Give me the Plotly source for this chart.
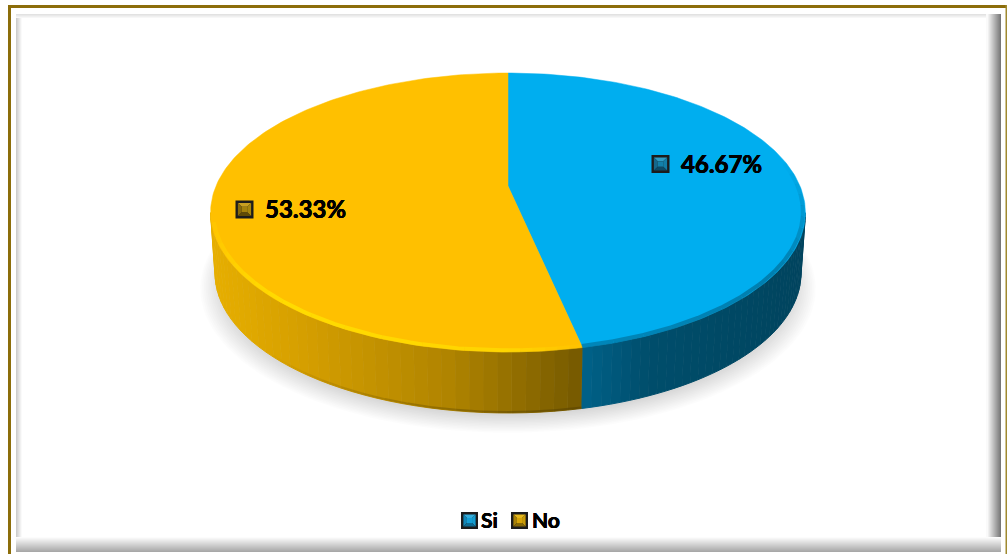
import numpy as np
import plotly.graph_objects as go

# ---- data ----
categories = ["Si", "No"]
values = [46.67, 53.33]
value_labels = ["46.67%", "53.33%"]

FONT = "Lato, Carlito, 'Noto Sans', sans-serif"
HEAVY = "0.35px 0 0 #000, -0.35px 0 0 #000, 0 0.25px 0 #000"
TOP = ["#00AEEF", "#FFC000"]
CHIP = [
    ("#2f9cc4", "#14688c", "#127da6", "#0c4a66", "#1280aa"),
    ("#c9a021", "#86690a", "#a8860c", "#5f4a06", "#a5820c"),
]
LEG_CHIP = [
    ("#35aedd", "#1386b6", "#159ccf", "#0d6a92", "#149fd6"),
    ("#e7b91c", "#a88208", "#c89a08", "#856706", "#d6a408"),
]

# ---- perspective of the disc, in pixel axes ----
CX, K, C = 508.0, 292.0, 0.19
A, B = -99.1, 186.0
DEPTH = 61.0
SHRINK = 0.985


def top_xy(theta, scale=1.0):
    """theta in degrees, clockwise from 12 o'clock."""
    t = np.radians(theta)
    u, v = np.sin(t) * scale, np.cos(t) * scale
    d = 1 + C * v
    return CX + K * u / d, (A * v + B) / d


def bot_xy(theta):
    x, y = top_xy(theta)
    return CX + (x - CX) * SHRINK, y + DEPTH


def lerp(stops, x):
    xs = [s[0] for s in stops]
    out = [np.interp(x, xs, [s[1][i] for s in stops]) for i in range(3)]
    return "rgb(%d,%d,%d)" % tuple(out)


angles = np.cumsum([0] + [v / sum(values) * 360 for v in values])
fig = go.Figure()


def poly(x, y, color, line=1.0):
    fig.add_trace(go.Scatter(x=list(x), y=list(y), mode="lines", fill="toself",
                             fillcolor=color, line=dict(color=color, width=line),
                             hoverinfo="skip", showlegend=False))


def stroke(x, y, color, width):
    fig.add_trace(go.Scatter(x=list(x), y=list(y), mode="lines",
                             line=dict(color=color, width=width, shape="linear"),
                             hoverinfo="skip", showlegend=False))


def faded_arc(fn, a0, a1, rgb, alpha0, alpha1, width, parts=14):
    edges = np.linspace(a0, a1, parts + 1)
    for j in range(parts):
        th = np.linspace(edges[j], edges[j + 1], 8)
        x, y = fn(th)
        al = alpha0 + (alpha1 - alpha0) * (j + 0.5) / parts
        stroke(x, y, "rgba(%d,%d,%d,%.3f)" % (*rgb, al), width)


# soft shadow below the disc
tt = np.linspace(0, 360, 181)
for i in range(16):
    sx, sy = top_xy(tt)
    grow = 1.035 - i * 0.006
    poly(CX + (sx - CX) * grow, 285 + (sy - 213) * grow + 4 - i * 0.6,
         "rgba(0,0,0,0.011)", 0)

# side wall, split into shaded strips
WALL = [
    [(581, (0, 98, 138)), (650, (0, 78, 108)), (810, (0, 68, 94))],
    [(205, (232, 176, 0)), (300, (214, 160, 0)), (450, (176, 132, 0)), (581, (118, 90, 0))],
]
wall_from, wall_to = 101.0, 259.0
for i in range(len(categories)):
    lo = max(angles[i], wall_from)
    hi = min(angles[i + 1], wall_to)
    edges = np.linspace(lo, hi, 41)
    for a, b in zip(edges[:-1], edges[1:]):
        th = np.linspace(a, b, 5)
        tx, ty = top_xy(th)
        bx, by = bot_xy(th[::-1])
        poly(np.r_[tx, bx], np.r_[ty, by], lerp(WALL[i], top_xy((a + b) / 2)[0]))

# darker rim along the bottom of the wall, fading out to the left
faded_arc(lambda t: (bot_xy(t)[0], bot_xy(t)[1] - 1), angles[1], 225, (90, 68, 0), 0.6, 0.0, 2)

# top faces
for i in range(len(categories)):
    th = np.linspace(angles[i], angles[i + 1], 181)
    ax, ay = top_xy(th)
    poly(np.r_[CX, ax, CX], np.r_[B, ay, B], TOP[i], 0.5)

# bevel highlights along the top rim, kept just inside the edge
inner = lambda t: top_xy(t, 0.992)
faded_arc(inner, 255, 222, (255, 222, 0), 0.15, 0.9, 4, 8)
faded_arc(inner, 222, 180, (255, 222, 0), 0.9, 0.7, 4, 6)
faded_arc(inner, 180, angles[1], (255, 222, 0), 0.7, 0.05, 4, 6)
faded_arc(inner, 80, 125, (0, 95, 132), 0.0, 0.6, 4, 10)
faded_arc(inner, 125, angles[1], (0, 95, 132), 0.6, 0.5, 4, 8)

shapes = []
annotations = []


def rect(x0, y0, x1, y1, color):
    shapes.append(dict(type="rect", xref="x", yref="y", x0=x0, y0=y0, x1=x1, y1=y1,
                       fillcolor=color, line=dict(width=0), layer="below"))


# gold frame
GOLD = "#8C6D0A"
rect(8, 5, 1007, 8, GOLD)
rect(8, 5, 11, 554, GOLD)
rect(1005.5, 5, 1007, 554, "#A08A30")

# inner soft bevel
for k in range(6):
    g = 205 + k * 9
    rect(16 + k, 14, 17 + k, 550, "rgb(%d,%d,%d)" % (g, g, g))
for k in range(4):
    g = 226 + k * 7
    rect(16, 14 + k, 1000, 15 + k, "rgb(%d,%d,%d)" % (g, g, g))
for k in range(14):
    g = 120 + k * 10
    rect(999 - k, 14, 1001 - k, 552, "rgb(%d,%d,%d)" % (g, g, g))
for k in range(15):
    g = 168 + k * 6
    rect(16, 551 - k, 1001, 552 - k, "rgb(%d,%d,%d)" % (g, g, g))


def chip(cx, cy, half, cols, border=1.6):
    l, r, t, b = cx - half, cx + half, cy - half, cy + half
    il, ir, it, ib = l + border, r - border, t + border, b - border
    p = half * 0.3

    def tri(pts, c):
        path = "M" + " L".join(f"{q[0]:.2f},{q[1]:.2f}" for q in pts) + " Z"
        shapes.append(dict(type="path", path=path, xref="x", yref="y", fillcolor=c,
                           line=dict(width=0), layer="above"))

    shapes.append(dict(type="rect", xref="x", yref="y", x0=l, y0=t, x1=r, y1=b,
                       fillcolor="#1c1c1c", line=dict(width=0), layer="above"))
    a, b2, c2, d = (cx - p, cy - p), (cx + p, cy - p), (cx + p, cy + p), (cx - p, cy + p)
    tri([(il, it), (ir, it), b2, a], cols[0])
    tri([(il, it), (il, ib), d, a], cols[1])
    tri([(ir, it), (ir, ib), c2, b2], cols[2])
    tri([(il, ib), (ir, ib), c2, d], cols[3])
    tri([a, b2, c2, d], cols[4])


# data labels
LABEL_POS = [(660.5, 164, 681), (244.5, 209.5, 265)]
for i, (mx, my, tx) in enumerate(LABEL_POS):
    chip(mx, my, 9, CHIP[i], 2.4)
    annotations.append(dict(x=tx, y=my - 1, xref="x", yref="y", text=f"<b>{value_labels[i]}</b>",
                            showarrow=False, xanchor="left", yanchor="middle", xshift=-2.5,
                            font=dict(family=FONT, size=24, color="#000000", shadow=HEAVY)))

# legend row
LEG_POS = [(469.5, 481), (519.5, 532)]
for i, (mx, tx) in enumerate(LEG_POS):
    chip(mx, 520.5, 8.5, LEG_CHIP[i], 2.4)
    annotations.append(dict(x=tx, y=519.5, xref="x", yref="y", text=f"<b>{categories[i]}</b>",
                            showarrow=False, xanchor="left", yanchor="middle", xshift=-2,
                            font=dict(family=FONT, size=21, color="#000000", shadow=HEAVY)))

fig.update_layout(
    width=1007, height=554, margin=dict(l=0, r=0, t=0, b=0, pad=0),
    paper_bgcolor="white", plot_bgcolor="rgba(0,0,0,0)", showlegend=False,
    xaxis=dict(range=[0, 1007], visible=False, fixedrange=True),
    yaxis=dict(range=[554, 0], visible=False, fixedrange=True),
    shapes=shapes, annotations=annotations,
)
fig.write_html("out.html", config={"displayModeBar": False},
               post_script="document.body.style.margin='0';document.body.style.overflow='hidden';")
